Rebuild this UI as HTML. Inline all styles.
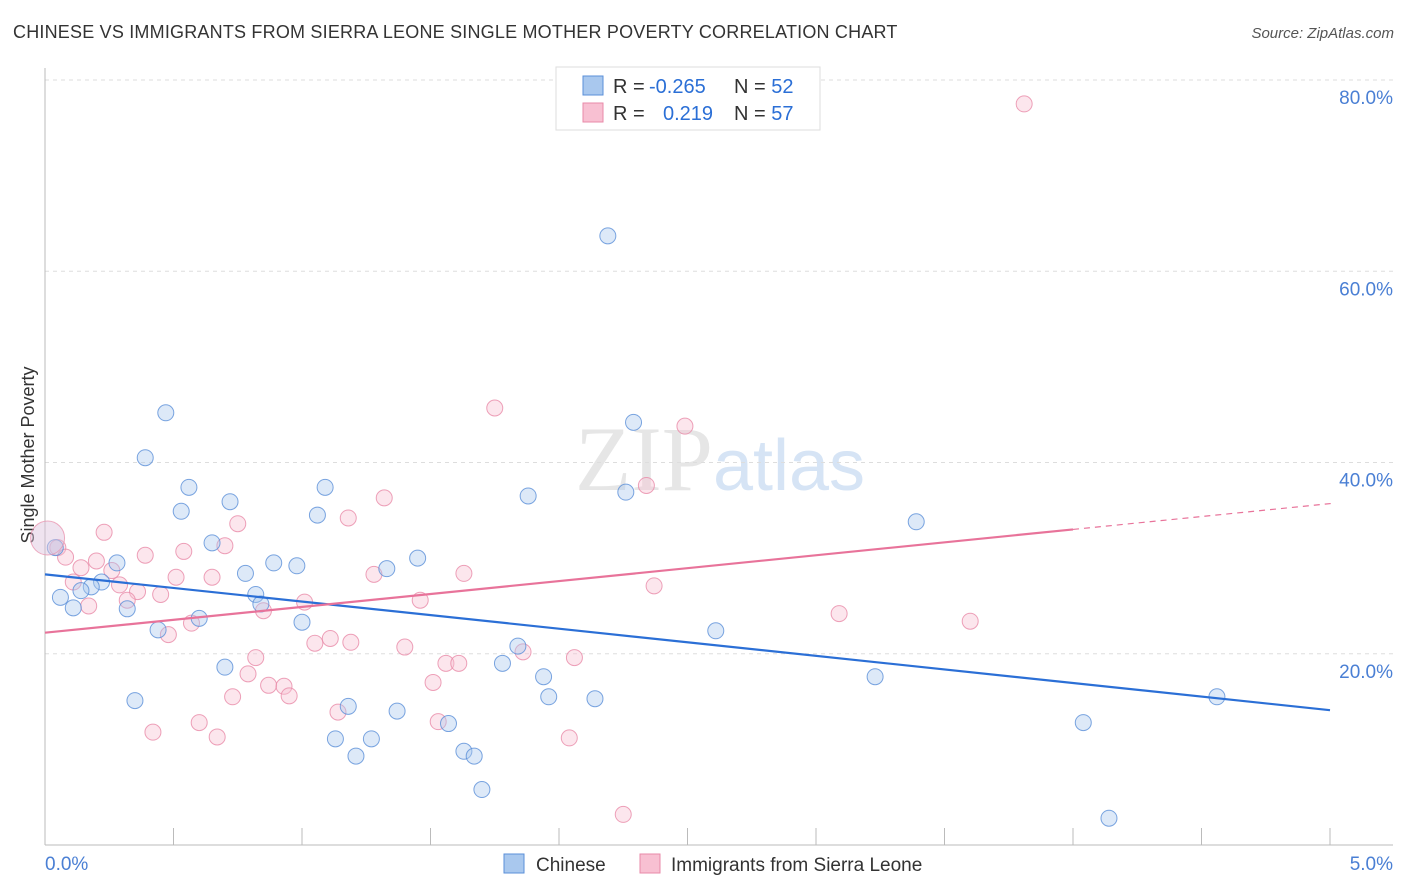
<!DOCTYPE html>
<html><head><meta charset="utf-8">
<style>
body{margin:0;background:#fff;font-family:"Liberation Sans",sans-serif;}
#wrap{position:relative;width:1406px;height:892px;overflow:hidden;}
.t{position:absolute;white-space:nowrap;}
</style></head>
<body>
<div id="wrap">
<div class="t" style="left:13px;top:22px;font-size:18px;letter-spacing:0.2px;color:#333;">CHINESE VS IMMIGRANTS FROM SIERRA LEONE SINGLE MOTHER POVERTY CORRELATION CHART</div>
<div class="t" style="right:12px;top:25px;font-size:15px;color:#555;font-style:italic;">Source: ZipAtlas.com</div>
<svg id="svg" width="1406" height="892" style="position:absolute;left:0;top:0"></svg>
</div>
<script>
const chineseX=[2.19,0.47,2.29,0.39,0.56,1.09,0.72,1.88,2.26,0.53,1.06,3.39,0.65,0.04,0.28,0.89,0.98,1.45,1.33,0.78,0.22,0.18,0.14,0.06,0.82,0.84,0.32,0.11,0.60,1.00,0.44,2.61,1.84,1.78,0.70,1.94,3.23,0.35,1.18,1.96,2.14,1.37,1.57,4.04,4.56,1.13,1.27,1.63,1.67,1.21,1.70,4.14];
const chineseY=[63.7,45.2,44.2,40.5,37.4,37.4,35.9,36.5,36.9,34.9,34.5,33.8,31.6,31.1,29.5,29.5,29.2,30.0,28.9,28.4,27.5,27.0,26.6,25.9,26.2,25.2,24.7,24.8,23.7,23.3,22.5,22.4,20.8,19.0,18.6,17.6,17.6,15.1,14.5,15.5,15.3,14.0,12.7,12.8,15.5,11.1,11.1,9.8,9.3,9.3,5.8,2.8];
const sierraX=[3.81,1.75,2.49,2.34,1.32,1.18,0.75,0.23,0.05,0.08,0.70,0.54,0.39,0.20,0.14,0.26,0.11,0.51,0.65,1.28,1.63,0.29,0.36,0.45,0.32,0.17,1.46,1.01,0.85,2.37,3.09,3.60,0.57,0.48,1.11,1.05,1.19,1.40,1.86,0.82,1.56,1.61,2.06,0.79,1.51,0.87,0.93,0.95,0.73,1.14,0.60,1.53,0.42,0.67,2.04,2.25];
const sierraY=[77.5,45.7,43.8,37.6,36.3,34.2,33.6,32.7,31.1,30.1,31.3,30.7,30.3,29.7,29.0,28.7,27.5,28.0,28.0,28.3,28.4,27.2,26.5,26.2,25.6,25.0,25.6,25.4,24.5,27.1,24.2,23.4,23.2,22.0,21.6,21.1,21.2,20.7,20.2,19.6,19.0,19.0,19.6,17.9,17.0,16.7,16.6,15.6,15.5,13.9,12.8,12.9,11.8,11.3,11.2,3.2];
const trendChinese=[28.3,-2.84];
const trendSierra=[22.2,2.7];
const yTicks=[20,40,60,80];
const xTickLabels=["0.0%","5.0%"];

const X0=45,X1=1330,Y0=845,PPY=9.5625;
const sx=v=>X0+(v/5)*(X1-X0);
const sy=v=>Y0-v*PPY;
const svg=document.getElementById('svg');
const NS='http://www.w3.org/2000/svg';
function mk(tag,attrs,parent){const e=document.createElementNS(NS,tag);for(const k in attrs)e.setAttribute(k,attrs[k]);(parent||svg).appendChild(e);return e;}

let wm=mk('text',{x:720,y:490,'text-anchor':'middle','font-size':92,'font-family':'Liberation Serif, serif',fill:'#e6e6e6'});


wm.innerHTML='ZIP<tspan fill="#d6e4f5" font-family="Liberation Sans, sans-serif" font-size="72">atlas</tspan>';

yTicks.forEach(t=>{
 let g=mk('line',{x1:X0,x2:1393,y1:sy(t),y2:sy(t),stroke:'#ddd','stroke-dasharray':'4,4'});
 
 
 let l=mk('text',{x:1393,y:sy(t)+24,'text-anchor':'end','font-size':19,fill:'#4a7fd4'});
 
 
 l.textContent=t.toFixed(1)+'%';
});
let ax=mk('line',{x1:X0,x2:X0,y1:68,y2:Y0,stroke:'#bbb'});


let bx=mk('line',{x1:X0,x2:1393,y1:Y0,y2:Y0,stroke:'#bbb'});


for(let i=0;i<=10;i++){
 let tk=mk('line',{x1:sx(i*0.5),x2:sx(i*0.5),y1:828,y2:Y0,stroke:'#bbb'});
 
 
}
[[0,'start',45],[1,'end',1393]].forEach(([i,a,x])=>{
 let l=mk('text',{x:x,y:870,'text-anchor':a,'font-size':19,fill:'#4a7fd4'});
 
 
 l.textContent=xTickLabels[i];
});
let yt=mk('text',{x:34,y:455,'text-anchor':'middle','font-size':18,fill:'#333',transform:'rotate(-90 34 455)'});


yt.textContent='Single Mother Poverty';

function pts(xs,ys,fill,stroke,name){
 xs.forEach((x,i)=>{
  let c=mk('circle',{cx:sx(x),cy:sy(ys[i]),r:8,fill:fill,stroke:stroke,'stroke-width':1,'fill-opacity':0.4,'stroke-opacity':0.8});
  
  
 });
}
pts(sierraX,sierraY,'#f8c0d2','#e88aa8','sierra-leone-point');
pts(chineseX,chineseY,'#a9c8ee','#5a8fd8','chinese-point');
let big=mk('circle',{cx:sx(0.01),cy:sy(32.1),r:17,fill:'#dcc0dc','fill-opacity':0.45,stroke:'#e88aa8','stroke-opacity':0.7});



let tc=mk('line',{x1:sx(0),y1:sy(trendChinese[0]),x2:sx(5),y2:sy(trendChinese[0]+5*trendChinese[1]),stroke:'#2b6fd6','stroke-width':2.2});


let ts=mk('line',{x1:sx(0),y1:sy(trendSierra[0]),x2:sx(4),y2:sy(trendSierra[0]+4*trendSierra[1]),stroke:'#e8739a','stroke-width':2.2});


let td=mk('line',{x1:sx(4),y1:sy(trendSierra[0]+4*trendSierra[1]),x2:sx(5.02),y2:sy(trendSierra[0]+5.02*trendSierra[1]),stroke:'#e8739a','stroke-width':1.2,'stroke-dasharray':'6,5'});



let lg=mk('g',{});


mk('rect',{x:556,y:67,width:264,height:63,fill:'#fff',stroke:'#ddd'},lg);
mk('rect',{x:583,y:76,width:20,height:19,fill:'#a9c8ee',stroke:'#5a8fd8'},lg);
mk('rect',{x:583,y:103,width:20,height:19,fill:'#f8c0d2',stroke:'#e88aa8'},lg);
[[93,'-0.265',649,'52'],[120,'0.219',663,'57']].forEach(([y,r,rx,n])=>{
 let t=mk('text',{x:613,y:y,'font-size':20,fill:'#333'},lg);
 t.innerHTML='R = <tspan fill="#2b6fd6" x="'+rx+'">'+r+'</tspan><tspan x="734">N = </tspan><tspan fill="#2b6fd6">'+n+'</tspan>';
});
[[504,'#a9c8ee','#5a8fd8','Chinese',536,'legend-chinese'],[640,'#f8c0d2','#e88aa8','Immigrants from Sierra Leone',671,'legend-sierra-leone']].forEach(([x,f,s,txt,tx,nm])=>{
 let g=mk('g',{});
 
 
 mk('rect',{x:x,y:854,width:20,height:19,fill:f,stroke:s},g);
 let t=mk('text',{x:tx,y:871,'font-size':19,fill:'#333'},g);
 t.textContent=txt;
});
</script>
</body></html>
